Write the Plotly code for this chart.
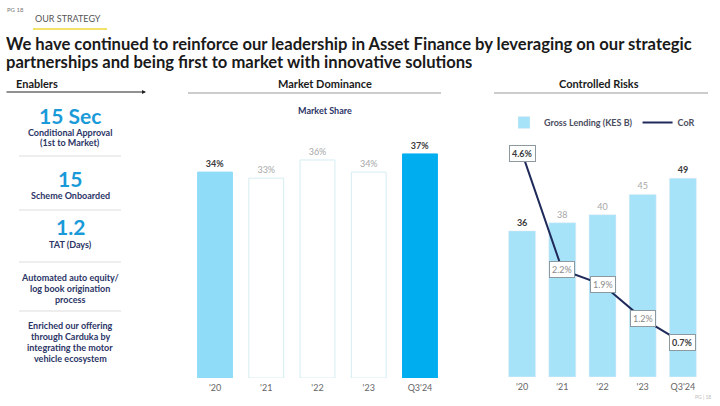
import plotly.graph_objects as go

W, H = 720, 406

# ---------------- data ----------------
years = ["'20", "'21", "'22", "'23", "Q3'24"]
market_share = [34, 33, 36, 34, 37]
gross_lending = [36, 38, 40, 45, 49]
cor = [4.6, 2.2, 1.9, 1.2, 0.7]
highlight = [True, False, False, False, True]

enablers = [
    ("15 Sec", ["Conditional Approval", "(1st to Market)"]),
    ("15", ["Scheme Onboarded"]),
    ("1.2", ["TAT (Days)"]),
    (None, ["Automated auto equity/", "log book origination", "process"]),
    (None, ["Enriched our offering", "through Carduka by", "integrating the motor", "vehicle ecosystem"]),
]

title_lines = [
    "We have continued to reinforce our leadership in Asset Finance by leveraging on our strategic",
    "partnerships and being first to market with innovative solutions",
]

# ---------------- styles ----------------
FONT = "Lato"
NAVY = "#2b3566"
BLUE = "#1a9ad8"
DARK = "#3a3a3a"
LIGHT = "#a8a8a8"


def px(x):
    return x / W


def py(y):
    return 1 - y / H


def label(x, y, text, size, color, xanchor="center", **kw):
    return dict(x=px(x), y=py(y), xref="paper", yref="paper", text=text, showarrow=False,
                xanchor=xanchor, yanchor="middle",
                font=dict(family=FONT, size=size, color=color), **kw)


fig = go.Figure()

# Middle chart: market share
ms_colors = ["#8fdcf8", "#ffffff", "#ffffff", "#ffffff", "#00adef"]
ms_lines = ["#8fdcf8", "#d5ecf1", "#d5ecf1", "#d5ecf1", "#00adef"]
fig.add_trace(go.Bar(
    x=years, y=market_share, xaxis="x", yaxis="y",
    marker=dict(color=ms_colors, line=dict(color=ms_lines, width=1)),
    text=[f"<b>{v}%</b>" if h else f"{v}%" for v, h in zip(market_share, highlight)],
    textposition="outside",
    textfont=dict(family=FONT, size=9, color=[DARK if h else LIGHT for h in highlight]),
    cliponaxis=False, showlegend=False, width=0.68,
))

# Right chart: gross lending bars + CoR line
fig.add_trace(go.Bar(
    x=years, y=gross_lending, xaxis="x2", yaxis="y2",
    name="<b>Gross Lending (KES B)</b>",
    marker=dict(color="#a6e3f8"),
    text=[f"<b>{v}</b>" if h else f"{v}" for v, h in zip(gross_lending, highlight)],
    textposition="outside",
    textfont=dict(family=FONT, size=9, color=[DARK if h else LIGHT for h in highlight]),
    cliponaxis=False, width=0.67,
))
fig.add_trace(go.Scatter(
    x=years, y=cor, xaxis="x2", yaxis="y3", name="<b>CoR</b>",
    mode="lines", line=dict(color="#1f2a5a", width=2), cliponaxis=False,
))

annotations = []
shapes = []

# CoR labels in boxes
for x, v, h in zip(years, cor, highlight):
    annotations.append(dict(
        x=x, y=v, xref="x2", yref="y3", showarrow=False,
        text=f"<b>{v}%</b>" if h else f"{v}%",
        font=dict(family=FONT, size=9, color=DARK if h else "#8a8a8a"),
        bgcolor="white", bordercolor="#8c9aa0", borderwidth=1, borderpad=2,
    ))

# Header
annotations.append(label(5, 10, "PG 18", 6, "#777", xanchor="left"))
annotations.append(label(33, 18, "OUR STRATEGY", 9, "#555", xanchor="left"))
shapes.append(dict(type="line", xref="paper", yref="paper", x0=px(33), x1=px(107), y0=py(29), y1=py(29),
                   line=dict(color="#f3e26a", width=2)))
for i, t in enumerate(title_lines):
    annotations.append(label(4, 44 + 18 * i, f"<b>{t}</b>", 16.6, "#1a1a1a", xanchor="left", height=18))

# Section headings
annotations.append(label(14, 84, "<b>Enablers</b>", 11, "#1a1a1a", xanchor="left"))
annotations.append(dict(x=px(146), y=py(92), ax=-141, ay=0, xref="paper", yref="paper",
                        text="", showarrow=True, arrowhead=2,
                        arrowsize=0.8, arrowwidth=1, arrowcolor="#222"))
annotations.append(label(325, 84, "<b>Market Dominance</b>", 11, "#1a1a1a"))
shapes.append(dict(type="line", xref="paper", yref="paper", x0=px(188), x1=px(441), y0=py(93), y1=py(93),
                   line=dict(color="#999", width=1)))
annotations.append(label(599, 84, "<b>Controlled Risks</b>", 11, "#1a1a1a"))
shapes.append(dict(type="line", xref="paper", yref="paper", x0=px(494), x1=px(708), y0=py(93), y1=py(93),
                   line=dict(color="#999", width=1)))
annotations.append(label(325, 110, "<b>Market Share</b>", 9, NAVY))

# Enablers panel
big_y = [115, 178, 226]
sub_y = [[132, 143], [195], [244], [277, 288, 299], [325, 336, 347, 358]]
div_y = [156, 210, 262, 311]
for i, (big, lines) in enumerate(enablers):
    if big is not None:
        annotations.append(label(70, big_y[i], f"<b>{big}</b>", 21, BLUE))
    for ln, yy in zip(lines, sub_y[i]):
        annotations.append(label(70, yy, f"<b>{ln}</b>", 9, NAVY))
for yy in div_y:
    shapes.append(dict(type="line", xref="paper", yref="paper", x0=px(19), x1=px(121), y0=py(yy), y1=py(yy),
                       line=dict(color="#dddddd", width=1)))

annotations.append(label(703, 397, "PG | 18", 5, "#bbb"))

axis_common = dict(showgrid=False, zeroline=False, showline=False, ticks="",
                   tickfont=dict(family=FONT, size=9, color="#666"), fixedrange=True,
                   ticklabelstandoff=3)

fig.update_layout(
    width=W, height=H, margin=dict(l=0, r=0, t=0, b=0),
    paper_bgcolor="white", plot_bgcolor="rgba(0,0,0,0)",
    font=dict(family=FONT),
    xaxis=dict(domain=[px(189.4), px(445.6)], anchor="y", **axis_common),
    yaxis=dict(domain=[py(378), py(140)], range=[0, 39.3], visible=False, anchor="x"),
    xaxis2=dict(domain=[px(502), px(703)], anchor="y2", **axis_common),
    yaxis2=dict(domain=[py(377), py(140)], range=[0, 58.4], visible=False, anchor="x2"),
    yaxis3=dict(range=[0, 4.87], overlaying="y2", visible=False, anchor="x2"),
    legend=dict(orientation="h", x=px(504), y=py(108), xanchor="left", yanchor="top",
                font=dict(family=FONT, size=9, color="#4a4d60"),
                bgcolor="rgba(0,0,0,0)", itemwidth=30, tracegroupgap=0),
    annotations=annotations, shapes=shapes,
)

fig.write_html("out.html")
